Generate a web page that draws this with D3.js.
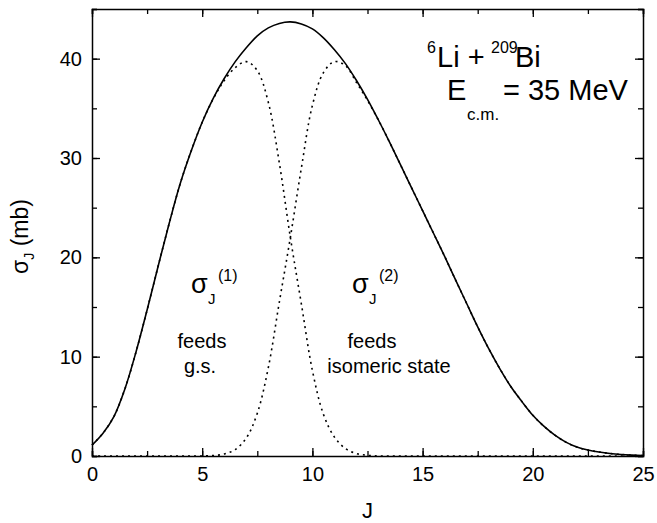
<!DOCTYPE html>
<html>
<head>
<meta charset="utf-8">
<script src="https://cdn.jsdelivr.net/npm/d3@7"></script>
<style>
  body { margin: 0; background: #fff; }
  svg { display: block; font-family: "Liberation Sans", Arial, sans-serif; }
</style>
</head>
<body>
<svg width="657" height="523"></svg>
<script>
// J grid (step 0.5) and the three curves
const jValues = [0, 0.5, 1, 1.5, 2, 2.5, 3, 3.5, 4, 4.5, 5, 5.5, 6, 6.5, 7, 7.5, 8, 8.5, 9, 9.5,
  10, 10.5, 11, 11.5, 12, 12.5, 13, 13.5, 14, 14.5, 15, 15.5, 16, 16.5, 17, 17.5, 18, 18.5, 19, 19.5,
  20, 20.5, 21, 21.5, 22, 22.5, 23, 23.5, 24, 24.5, 25];

// total sigma_J (solid)
const sigmaTotal = [1.1, 2.3, 4.0, 6.8, 10.5, 14.7, 19.1, 23.4, 27.4, 30.7, 33.6, 36.0, 38.0, 39.7, 41.1, 42.3, 43.1, 43.55, 43.7, 43.5,
  43.0, 42.1, 40.9, 39.5, 37.8, 35.9, 33.8, 31.6, 29.3, 27.0, 24.7, 22.4, 20.1, 17.7, 15.35, 13.0, 10.8, 8.8, 7.0, 5.5,
  4.1, 3.0, 2.1, 1.4, 0.9, 0.6, 0.4, 0.25, 0.15, 0.09, 0.05];

// sigma_J^(1), feeds g.s. (dotted)
const sigma1 = [1.1, 2.3, 4.0, 6.8, 10.5, 14.7, 19.1, 23.4, 27.4, 30.7, 33.6, 35.95, 37.8, 39.1, 39.7, 38.8, 35.6, 29.5, 22.0, 15.3,
  8.6, 4.2, 1.9, 0.75, 0.25, 0.07, 0, 0, 0, 0, 0, 0, 0, 0, 0, 0, 0, 0, 0, 0,
  0, 0, 0, 0, 0, 0, 0, 0, 0, 0, 0];

// sigma_J^(2), feeds isomeric state (dotted)
const sigma2 = [0, 0, 0, 0, 0, 0, 0, 0, 0, 0, 0, 0.05, 0.2, 0.65, 1.8, 4.3, 8.9, 15.5, 22.0, 29.0,
  35.3, 38.6, 39.7, 39.3, 37.6, 35.8, 33.8, 31.6, 29.3, 27.0, 24.7, 22.4, 20.1, 17.7, 15.35, 13.0, 10.8, 8.8, 7.0, 5.5,
  4.1, 3.0, 2.1, 1.4, 0.9, 0.6, 0.4, 0.25, 0.15, 0.09, 0.05];

const xTicks = [0, 5, 10, 15, 20, 25];
const yTicks = [0, 10, 20, 30, 40];

const margin = {left: 92, right: 14, top: 9, bottom: 67};
const width = 657, height = 523;

const svg = d3.select("svg");

const x = d3.scaleLinear().domain([0, 25]).range([margin.left, width - margin.right]);
const y = d3.scaleLinear().domain([0, 45]).range([height - margin.bottom, margin.top]);

const line = series => d3.line()
    .x((d, i) => x(jValues[i]))
    .y(d => y(Math.max(0, d)))
    .curve(d3.curveCatmullRom.alpha(0.5))(series);

// curves
svg.append("path").attr("d", line(sigma1))
    .attr("fill", "none").attr("stroke", "#000").attr("stroke-width", 1.6)
    .attr("stroke-dasharray", "2,4");
svg.append("path").attr("d", line(sigma2))
    .attr("fill", "none").attr("stroke", "#000").attr("stroke-width", 1.6)
    .attr("stroke-dasharray", "2,4");
svg.append("path").attr("d", line(sigmaTotal))
    .attr("fill", "none").attr("stroke", "#000").attr("stroke-width", 1.6);

// axes: minor ticks inside on all four sides
const minorX = d3.range(0, 25.01, 2.5);
const minorY = d3.range(0, 45.01, 5);

svg.append("g").attr("transform", `translate(0,${y(0)})`)
    .call(d3.axisBottom(x).tickValues(minorX).tickSize(-5).tickFormat(""));
svg.append("g").attr("transform", `translate(0,${y(45)})`)
    .call(d3.axisTop(x).tickValues(minorX).tickSize(-5).tickFormat(""));
svg.append("g").attr("transform", `translate(${x(0)},0)`)
    .call(d3.axisLeft(y).tickValues(minorY).tickSize(-5).tickFormat(""));
svg.append("g").attr("transform", `translate(${x(25)},0)`)
    .call(d3.axisRight(y).tickValues(minorY).tickSize(-5).tickFormat(""));

// longer major ticks with labels
svg.append("g").attr("transform", `translate(0,${y(0)})`)
    .call(d3.axisBottom(x).tickValues(xTicks).tickSize(-8).tickPadding(11).tickFormat(d3.format("d")))
    .call(g => g.select(".domain").remove())
    .selectAll("text").attr("font-size", 20).attr("fill", "#000").attr("font-family", "Liberation Sans, Arial, sans-serif");
svg.append("g").attr("transform", `translate(0,${y(45)})`)
    .call(d3.axisTop(x).tickValues(xTicks).tickSize(-8).tickFormat(""))
    .call(g => g.select(".domain").remove());
svg.append("g").attr("transform", `translate(${x(0)},0)`)
    .call(d3.axisLeft(y).tickValues(yTicks).tickSize(-8).tickPadding(10).tickFormat(d3.format("d")))
    .call(g => g.select(".domain").remove())
    .selectAll("text").attr("font-size", 20).attr("fill", "#000").attr("font-family", "Liberation Sans, Arial, sans-serif");
svg.append("g").attr("transform", `translate(${x(25)},0)`)
    .call(d3.axisRight(y).tickValues(yTicks).tickSize(-8).tickFormat(""))
    .call(g => g.select(".domain").remove());

svg.selectAll(".domain").attr("stroke-width", 1.5).attr("stroke", "#000");
svg.selectAll(".tick line").attr("stroke-width", 1.3).attr("stroke", "#000");

// axis titles
svg.append("text").attr("x", (x(0) + x(25)) / 2).attr("y", 518)
    .attr("text-anchor", "middle").attr("font-size", 22).text("J");

const yl = svg.append("text")
    .attr("transform", `translate(28,${(y(0) + y(45)) / 2 + 4}) rotate(-90)`)
    .attr("text-anchor", "middle").attr("font-size", 23);
yl.append("tspan").text("σ");
yl.append("tspan").attr("font-size", 14).attr("dy", 6).text("J");
yl.append("tspan").attr("dy", -6).text(" (mb)");

// annotations: each label is one text with positioned pieces
function label(parts) {
  const t = svg.append("text");
  parts.forEach(p => t.append("tspan")
      .attr("x", p[1]).attr("y", p[2]).attr("font-size", p[3]).text(p[0]));
  return t;
}
label([["6", 427, 53, 16], ["Li +", 437, 67, 29], ["209", 491, 53, 16], ["Bi", 515, 67, 29]]);
label([["E", 447, 100, 29], ["c.m.", 467, 120, 17], ["= 35 MeV", 503, 100, 29]]);

label([["σ", 191, 293, 27], ["J", 208, 304, 15], ["(1)", 218, 281, 16]]);
label([["σ", 352, 293, 27], ["J", 369, 304, 15], ["(2)", 379, 281, 16]]);

label([["feeds", 202, 348, 20]]).attr("text-anchor", "middle");
label([["g.s.", 200, 373, 20]]).attr("text-anchor", "middle");
label([["feeds", 372, 348, 20]]).attr("text-anchor", "middle");
label([["isomeric state", 389, 373, 20]]).attr("text-anchor", "middle");
</script>
</body>
</html>
